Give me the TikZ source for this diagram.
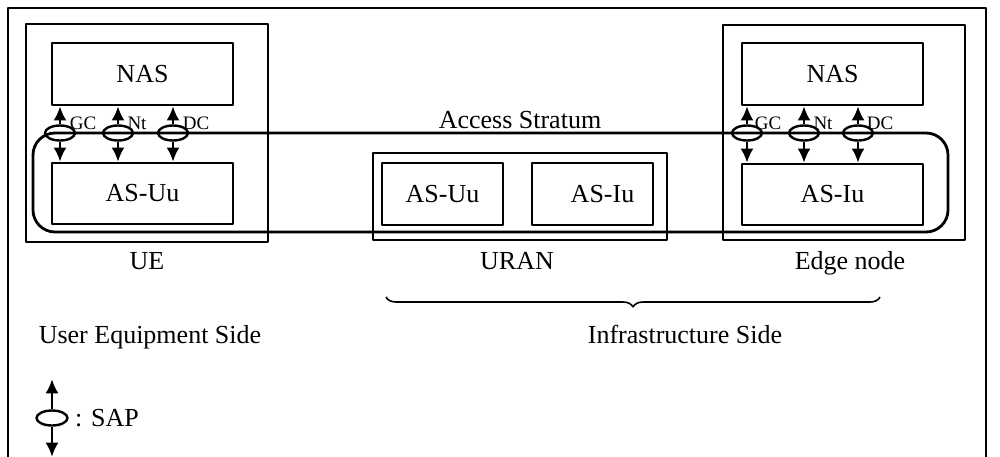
\documentclass[tikz,border=0pt]{standalone}
\usepackage{fontspec}
\setmainfont{Liberation Serif}
\usetikzlibrary{arrows.meta,shapes.geometric,decorations.pathreplacing}
\tikzset{
  unitbox/.style={draw,line width=2bp,inner sep=0pt},
  layerbox/.style={draw,line width=2.8bp,inner sep=0pt},
  sap/.style={draw,ellipse,line width=2.4bp,inner sep=0pt,minimum width=30bp,minimum height=15bp},
  sapname/.style={font=\fontsize{19bp}{22bp}\selectfont,inner sep=0pt,anchor=base},
  saparrow/.style={->,line width=2.2bp},
  label/.style={inner sep=0pt,anchor=base},
}
\begin{document}
\begin{tikzpicture}[>={Latex[length=14bp,width=13bp]},line join=bevel,font=\fontsize{26bp}{30bp}\selectfont]
\useasboundingbox (0bp,0bp) rectangle (1000bp,-457bp);
%%
\draw [line width=1.7bp] (8bp,-470bp) -- (8bp,-8bp) -- (986bp,-8bp) -- (986bp,-470bp);
%
\node (ue) at (147bp,-133bp) [unitbox,minimum width=242bp,minimum height=218bp] {};
  \node (uran) at (520bp,-196.5bp) [unitbox,minimum width=294bp,minimum height=87bp] {};
  \node (edge) at (844bp,-132.5bp) [unitbox,minimum width=242bp,minimum height=215bp] {};
%
\node (nas_ue) at (142.5bp,-74bp) [layerbox,minimum width=181bp,minimum height=62bp] {NAS};
  \node (asuu_ue) at (142.5bp,-193.5bp) [layerbox,minimum width=181bp,minimum height=61bp] {AS-Uu};
  \node (asuu_uran) at (442.5bp,-194bp) [layerbox,minimum width=121bp,minimum height=62bp] {AS-Uu};
  \node (asiu_uran) at (592.5bp,-194bp) [layerbox,minimum width=121bp,minimum height=62bp] {\hspace{20bp}AS-Iu};
  \node (nas_edge) at (832.5bp,-74bp) [layerbox,minimum width=181bp,minimum height=62bp] {NAS};
  \node (asiu_edge) at (832.5bp,-194.5bp) [layerbox,minimum width=181bp,minimum height=61bp] {AS-Iu};
%
\node (stratum) at (490.5bp,-182.5bp) [draw,line width=2.8bp,rounded corners=22bp,minimum width=915bp,minimum height=99bp] {};
  \node (stratum_name) at (520bp,-128bp) [label] {Access Stratum};
%
\node (sap_ue_gc) at (60bp,-133bp) [sap] {};
  \node (sap_ue_nt) at (118bp,-133bp) [sap] {};
  \node (sap_ue_dc) at (173bp,-133bp) [sap] {};
  \node (sap_edge_gc) at (747bp,-133bp) [sap] {};
  \node (sap_edge_nt) at (804bp,-133bp) [sap] {};
  \node (sap_edge_dc) at (858bp,-133bp) [sap] {};
%
\foreach \s/\up/\down in {ue_gc/nas_ue/asuu_ue,ue_nt/nas_ue/asuu_ue,ue_dc/nas_ue/asuu_ue,
    edge_gc/nas_edge/asiu_edge,edge_nt/nas_edge/asiu_edge,edge_dc/nas_edge/asiu_edge}{
  \draw [saparrow] (sap_\s.north) -- (sap_\s.north |- \up.south);
  \draw [saparrow] (sap_\s.south) -- (sap_\s.south |- \down.north);
}
%
\node (gc_ue) at (83bp,-129bp) [sapname] {GC};
  \node (nt_ue) at (137bp,-129bp) [sapname] {Nt};
  \node (dc_ue) at (196bp,-129bp) [sapname] {DC};
  \node (gc_edge) at (768bp,-129bp) [sapname] {GC};
  \node (nt_edge) at (823bp,-129bp) [sapname] {Nt};
  \node (dc_edge) at (880bp,-129bp) [sapname] {DC};
%
\node (ue_name) at (147bp,-269bp) [label] {UE};
  \node (uran_name) at (517bp,-269bp) [label] {URAN};
  \node (edge_name) at (850bp,-269bp) [label] {Edge node};
%
\coordinate (infra_l) at (386bp,-297bp);
  \coordinate (infra_r) at (880bp,-297bp);
  \draw [line width=1.6bp,decorate,decoration={brace,amplitude=10bp}] (infra_r) -- (infra_l);
  \node (user_side) at (150bp,-343bp) [label] {User Equipment Side};
  \node (infra_side) at (685bp,-343bp) [label] {Infrastructure Side};
%
\node (sap_key) at (52bp,-418bp) [sap,minimum width=31bp] {};
  \draw [saparrow] (sap_key.north) -- ++(0bp,30bp);
  \draw [saparrow] (sap_key.south) -- ++(0bp,-30bp);
  \node (sap_key_name) at (75bp,-426bp) [label,anchor=base west] {: SAP};
%
\end{tikzpicture}
\end{document}
